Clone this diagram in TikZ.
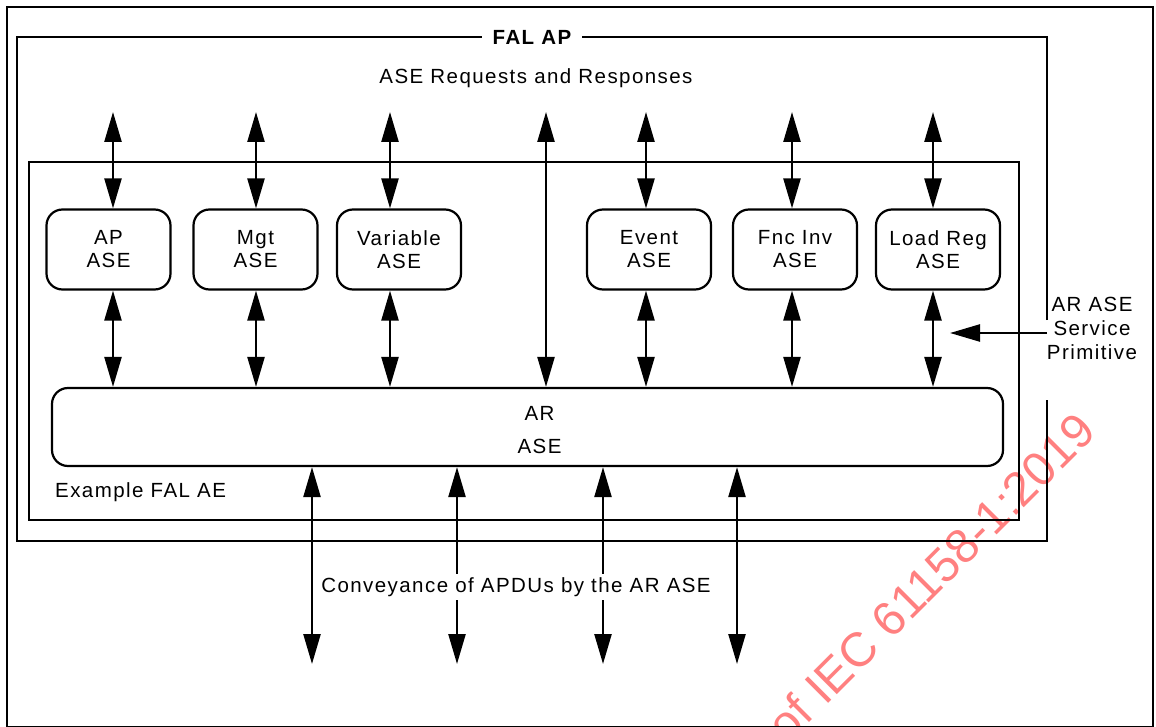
\documentclass[tikz,border=0pt]{standalone}
\usepackage{fontspec}
\setmainfont{Liberation Sans}[LetterSpace = 7]
\newfontfamily\wmfont{Liberation Sans}
\usetikzlibrary{arrows.meta}
\newcommand{\tikzasebox}[4]{\node (#1) at (#2, #3) [asebox] {#4};}
\newcommand{\tikztextc}[4]{\node (#1) at (#2, #3) {#4};}
\definecolor{wmRed}{RGB}{255, 128, 128}

\begin{document}
\begin{tikzpicture}[x = 1pt, y = -1pt,   % Pixel-Koordinaten, y nach unten
    font = \fontsize{20.5}{23}\selectfont,
    > = {Triangle[length = 30pt, width = 17pt]},
    rahmen/.style = {line width = 2.4pt},
    asebox/.style = {draw, line width = 2.2pt, rounded corners = 16pt,
      minimum width = 124pt, minimum height = 80pt, align = center},
    doppel/.style = {line width = 2.4pt, <->},
    einfach/.style = {line width = 2.4pt, ->}]
  % Bounding box
  \useasboundingbox (0, 0) rectangle (1156, 727);
  % Wasserzeichen
  \node (wasserzeichen) at (931, 577) [rotate = 45, text = wmRed,
    font = \wmfont\fontsize{48}{52}\selectfont] {of IEC 61158-1:2019};
  % Rahmen
  \draw [rahmen] (7, 7) rectangle (1153, 727);
  \draw [rahmen] (1047, 320) -- (1047, 37) -- (17, 37) -- (17, 541)
    -- (1047, 541) -- (1047, 400);
  \draw [rahmen] (29, 162) rectangle (1019, 520);
  \node (apTitel) at (532, 37) [fill = white, inner xsep = 11pt,
    font = \fontsize{20.5}{23}\selectfont\bfseries] {FAL AP};
  \tikztextc{anfragen}{536}{78}{ASE Requests and Responses}
  \node (aeTitel) at (55, 492) [anchor = west, inner sep = 0pt] {Example FAL AE};
  % ASE-Kaesten
  \tikzasebox{ap}{108.5}{249.5}{AP\\ASE}
  \tikzasebox{mgt}{255.5}{249.5}{Mgt\\ASE}
  \tikzasebox{var}{399}{249.5}{Variable\\ASE}
  \tikzasebox{ev}{649}{249.5}{Event\\ASE}
  \tikzasebox{fnc}{795}{249.5}{Fnc Inv\\ASE}
  \tikzasebox{lr}{938}{249.5}{Load Reg\\ASE}
  \node (ar) at (527.5, 427) [asebox, minimum width = 951pt,
    minimum height = 78pt]
    {\rule{0pt}{21pt}\hspace*{24pt}AR\\[10pt]\hspace*{24pt}ASE};
  % oben
  \coordinate (oben) at (0, 112);
  \draw [doppel] ([xshift = 4.5pt] ap.north |- oben) -- ([xshift = 4.5pt] ap.north);
  \draw [doppel] ([xshift = 0.5pt] mgt.north |- oben) -- ([xshift = 0.5pt] mgt.north);
  \draw [doppel] ([xshift = -9pt] var.north |- oben) -- ([xshift = -9pt] var.north);
  \draw [doppel] ([xshift = -3pt] ev.north |- oben) -- ([xshift = -3pt] ev.north);
  \draw [doppel] ([xshift = -3pt] fnc.north |- oben) -- ([xshift = -3pt] fnc.north);
  \draw [doppel] ([xshift = -5pt] lr.north |- oben) -- ([xshift = -5pt] lr.north);
  \coordinate (mitte) at (546, 112);
  \draw [doppel] (mitte) -- (mitte |- ar.north);
  % Mitte
  \draw [doppel] ([xshift = 4.5pt] ap.south) -- ([xshift = 4.5pt] ap.south |- ar.north);
  \draw [doppel] ([xshift = 0.5pt] mgt.south) -- ([xshift = 0.5pt] mgt.south |- ar.north);
  \draw [doppel] ([xshift = -9pt] var.south) -- ([xshift = -9pt] var.south |- ar.north);
  \draw [doppel] ([xshift = -3pt] ev.south) -- ([xshift = -3pt] ev.south |- ar.north);
  \draw [doppel] ([xshift = -3pt] fnc.south) -- ([xshift = -3pt] fnc.south |- ar.north);
  \draw [doppel] ([xshift = -5pt] lr.south) -- ([xshift = -5pt] lr.south |- ar.north);
  % rechts daneben
  \node (primitiv) at (1092, 328) [align = center, inner xsep = 0pt,
    font = \fontsize{20.5}{24}\selectfont] {AR ASE\\Service\\Primitive};
  \coordinate (primEnde) at (950, 333);
  \draw [einfach] (1047, 333) -- (primEnde);
  % unten
  \coordinate (u1) at (312, 664);
  \coordinate (u2) at (457, 664);
  \coordinate (u3) at (603, 664);
  \coordinate (u4) at (737, 664);
  \draw [doppel] (u1 |- ar.south) -- (u1);
  \draw [doppel] (u2 |- ar.south) -- (u2);
  \draw [doppel] (u3 |- ar.south) -- (u3);
  \draw [doppel] (u4 |- ar.south) -- (u4);
  \node (apdu) at (516, 587) [fill = white, inner xsep = 7pt]
    {Conveyance of APDUs by the AR ASE};
\end{tikzpicture}
\end{document}
